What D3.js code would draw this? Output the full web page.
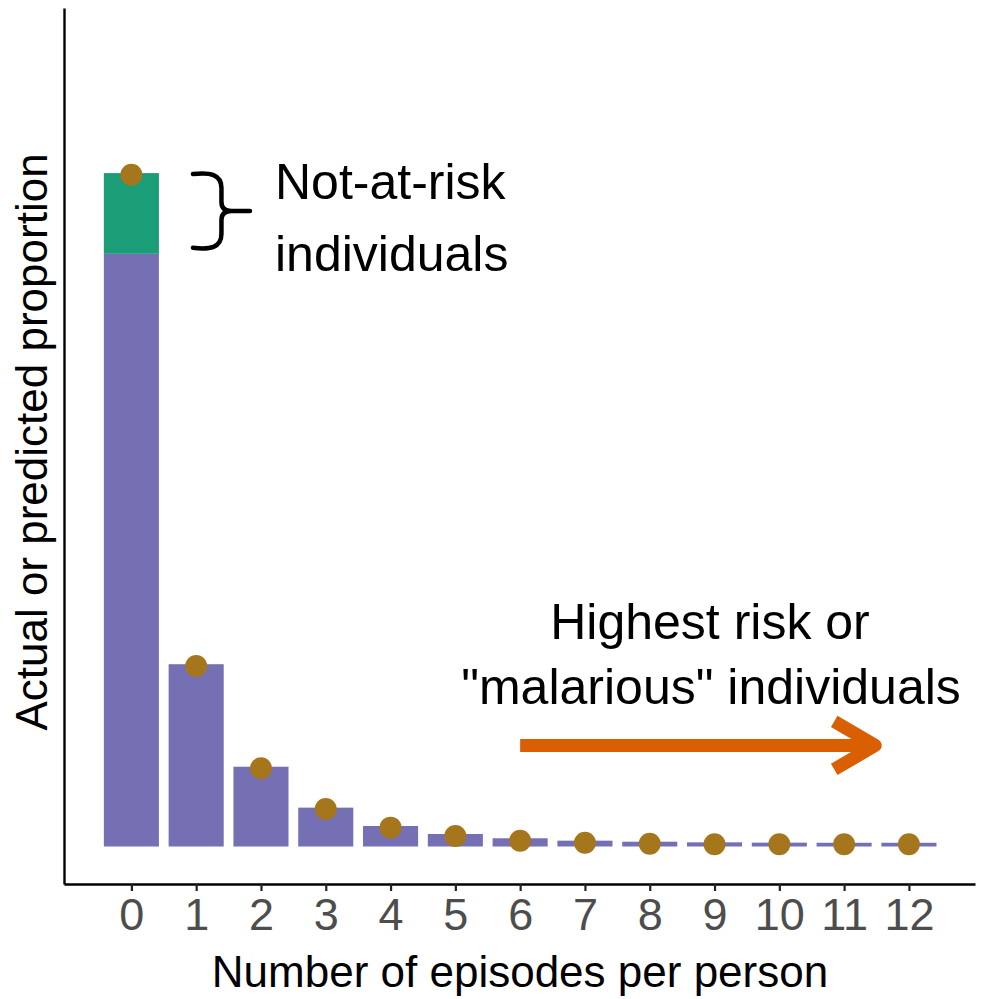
<!DOCTYPE html>
<html>
<head>
<meta charset="utf-8">
<script src="https://cdn.jsdelivr.net/npm/d3@7"></script>
<style>
  body { margin: 0; background: #fff; }
  svg text { font-family: "Liberation Sans", Arial, sans-serif; }
</style>
</head>
<body>
<div id="chart"></div>
<script>
// episodes per person (x categories)
var episodes = [0, 1, 2, 3, 4, 5, 6, 7, 8, 9, 10, 11, 12];
// observed proportion, at-risk part (purple)
var atRisk = [0.569, 0.175, 0.0766, 0.0373, 0.0197, 0.0120, 0.0079, 0.0056, 0.0046, 0.0040, 0.0037, 0.0036, 0.0036];
// extra zeros from not-at-risk people (green, only on 0)
var notAtRisk = [0.0775, 0, 0, 0, 0, 0, 0, 0, 0, 0, 0, 0, 0];
// model prediction (dots)
var predicted = [0.645, 0.1733, 0.0751, 0.0360, 0.0181, 0.0101, 0.0056, 0.0036, 0.0027, 0.0021, 0.0021, 0.0021, 0.0021];

var width = 984,
    height = 999;

var svg = d3.select("#chart").append("svg")
    .attr("width", width)
    .attr("height", height);

svg.append("rect").attr("width", width).attr("height", height).attr("fill", "#fff");

var x = d3.scaleLinear()
    .domain([-1.04, 13.02])
    .range([64, 975]);

var y = d3.scaleLinear()
    .domain([-0.036, 0.805])
    .range([884, 8]);

var barW = 0.85; // in x units

// purple bars
svg.selectAll(".bar")
    .data(episodes)
  .enter().append("rect")
    .attr("class", "bar")
    .attr("x", function(d) { return x(d - barW / 2); })
    .attr("width", function(d) { return x(barW) - x(0); })
    .attr("y", function(d, i) { return y(atRisk[i]); })
    .attr("height", function(d, i) { return y(0) - y(atRisk[i]); })
    .attr("fill", "#7570B3");

// green stacked part
svg.selectAll(".barTop")
    .data(episodes.filter(function(d, i) { return notAtRisk[i] > 0; }))
  .enter().append("rect")
    .attr("class", "barTop")
    .attr("x", function(d) { return x(d - barW / 2); })
    .attr("width", function(d) { return x(barW) - x(0); })
    .attr("y", function(d) { return y(atRisk[d] + notAtRisk[d]); })
    .attr("height", function(d) { return y(atRisk[d]) - y(atRisk[d] + notAtRisk[d]); })
    .attr("fill", "#1B9E77");

// predicted dots
svg.selectAll(".dot")
    .data(episodes)
  .enter().append("circle")
    .attr("class", "dot")
    .attr("cx", function(d) { return x(d); })
    .attr("cy", function(d, i) { return y(predicted[i]); })
    .attr("r", 11)
    .attr("fill", "#A6761D");

// axes
var xAxis = svg.append("g")
    .attr("transform", "translate(0," + y.range()[0] + ")")
    .call(d3.axisBottom(x).tickValues(episodes).tickSize(7).tickSizeOuter(0).tickPadding(7));

var yAxis = svg.append("g")
    .attr("transform", "translate(" + x.range()[0] + ",0)")
    .call(d3.axisLeft(y).tickValues([]).tickSizeOuter(0));

svg.selectAll(".domain").attr("stroke", "#000").attr("stroke-width", 2.4);
xAxis.selectAll(".tick line").attr("stroke", "#222").attr("stroke-width", 2.2);
xAxis.selectAll(".tick text")
    .attr("font-size", 45)
    .attr("fill", "#4D4D4D")
    .style("font-family", "'Liberation Sans Narrow', 'Arial Narrow', sans-serif");

// axis titles
svg.append("text")
    .attr("x", 520)
    .attr("y", 987)
    .attr("text-anchor", "middle")
    .attr("font-size", 44)
    .text("Number of episodes per person");

svg.append("text")
    .attr("transform", "translate(47,442) rotate(-90)")
    .attr("text-anchor", "middle")
    .attr("font-size", 44)
    .text("Actual or predicted proportion");

// brace next to green part
var bTop = y(atRisk[0] + notAtRisk[0]) + 1,
    bBot = y(atRisk[0]) - 6,
    bMid = (bTop + bBot) / 2,
    bx0 = x(0.95), bx1 = x(1.39), bx2 = x(1.83);

svg.append("path")
    .attr("d", "M" + bx0 + "," + bTop +
        " C" + (bx0 + 17) + "," + (bTop - 2) + " " + bx1 + "," + bTop + " " + bx1 + "," + (bTop + 14) +
        " L" + bx1 + "," + (bMid - 9) +
        " C" + bx1 + "," + (bMid - 3) + " " + (bx1 + 3) + "," + bMid + " " + (bx1 + 10) + "," + bMid +
        " L" + bx2 + "," + bMid +
        " M" + (bx1 + 10) + "," + bMid +
        " C" + (bx1 + 3) + "," + bMid + " " + bx1 + "," + (bMid + 3) + " " + bx1 + "," + (bMid + 9) +
        " L" + bx1 + "," + (bBot - 14) +
        " C" + bx1 + "," + bBot + " " + (bx0 + 17) + "," + (bBot + 2) + " " + bx0 + "," + bBot)
    .attr("fill", "none")
    .attr("stroke", "#000")
    .attr("stroke-width", 4.5)
    .attr("stroke-linecap", "round");

svg.append("text")
    .attr("x", 275)
    .attr("y", 199)
    .attr("font-size", 50)
    .text("Not-at-risk");
svg.append("text")
    .attr("x", 275)
    .attr("y", 271)
    .attr("font-size", 50)
    .text("individuals");

// arrow toward high counts
var ay = y(0.097),
    ax0 = x(6.0),
    ax1 = x(11.48);

svg.append("line")
    .attr("x1", ax0).attr("x2", ax1 - 4)
    .attr("y1", ay).attr("y2", ay)
    .attr("stroke", "#D95F02")
    .attr("stroke-width", 13);

svg.append("path")
    .attr("d", "M" + (ax1 - 41) + "," + (ay - 24) + " L" + ax1 + "," + ay + " L" + (ax1 - 41) + "," + (ay + 24))
    .attr("fill", "none")
    .attr("stroke", "#D95F02")
    .attr("stroke-width", 13)
    .attr("stroke-linejoin", "round");

svg.append("text")
    .attr("x", 710)
    .attr("y", 639)
    .attr("text-anchor", "middle")
    .attr("font-size", 50)
    .text("Highest risk or");
svg.append("text")
    .attr("x", 711)
    .attr("y", 704)
    .attr("text-anchor", "middle")
    .attr("font-size", 50)
    .text("\"malarious\" individuals");
</script>
</body>
</html>
